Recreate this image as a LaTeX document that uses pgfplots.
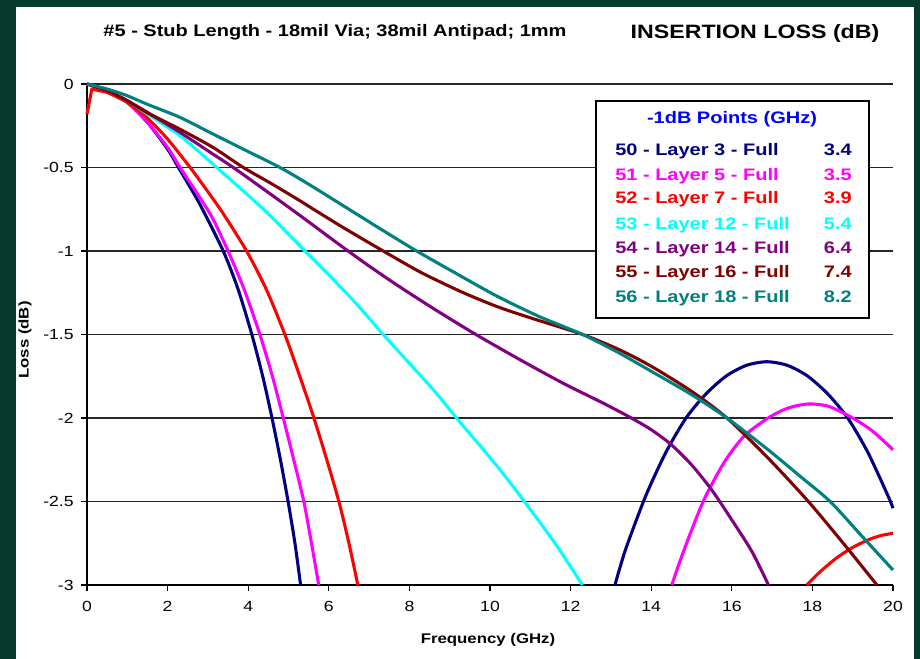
\documentclass[border=0pt]{standalone}
\usepackage{fontspec}
\setmainfont{Liberation Sans}[FakeStretch=1.2]
\usepackage{pgfplots}
\pgfplotsset{compat=1.18}

\definecolor{bggreen}{RGB}{6,58,44}
\definecolor{c50}{RGB}{0,0,128}
\definecolor{c51}{RGB}{255,0,255}
\definecolor{c52}{RGB}{255,0,0}
\definecolor{c53}{RGB}{0,255,255}
\definecolor{c54}{RGB}{128,0,128}
\definecolor{c55}{RGB}{128,0,0}
\definecolor{c56}{RGB}{0,128,128}
\definecolor{ttlblue}{RGB}{0,0,255}

\newcommand{\legfont}{\bfseries\fontsize{12.5}{14}\selectfont}
\newcommand{\legrow}[4]{%
  \node[anchor=base west, text=#2, font=\legfont, inner sep=0] at (615,#1) {#3};
  \node[anchor=base east, text=#2, font=\legfont, inner sep=0] at (852,#1) {#4};}

\begin{document}
\begin{tikzpicture}
\useasboundingbox (0,0) rectangle (690pt,-494.25pt);
\fill[bggreen] (0,0) rectangle (690pt,-494.25pt);
\fill[white] (12pt,-5.25pt) rectangle (685.5pt,-494.25pt);

\begin{axis}[
  at={(65.25pt,-438.75pt)}, anchor=south west,
  scale only axis, width=604.5pt, height=375.75pt,
  xmin=0, xmax=20, ymin=-3, ymax=0,
  axis x line*=bottom, axis y line*=left,
  axis line style={line width=0.9pt, black},
  xtick={0,2,4,6,8,10,12,14,16,18,20},
  ytick={-3,-2.5,-2,-1.5,-1,-0.5,0},
  tick align=outside, major tick length=4.5pt,
  tick style={line width=0.9pt, black},
  ymajorgrids, grid style={line width=0.9pt, black!85},
  clip=false,
  every tick label/.append style={font=\fontsize{11}{13}\selectfont},
  xticklabel style={yshift=-4pt},
  yticklabel style={xshift=-2pt},
  /pgf/number format/assume math mode=true,
  no markers,
  every axis plot/.append style={line width=2.3pt, line join=round, smooth, tension=0.45},
]
% 50 - Layer 3
\addplot[c50] coordinates {(0,0) (0.5,-0.04) (1,-0.11) (1.5,-0.23) (2,-0.39) (2.27,-0.5)
  (2.8,-0.72) (3.38,-1.0) (3.75,-1.23) (4.09,-1.5) (4.36,-1.75) (4.59,-2.0)
  (4.8,-2.25) (4.99,-2.5) (5.16,-2.75) (5.3,-3.0)};
\addplot[c50] coordinates {(13.1,-3.0) (13.37,-2.783) (13.87,-2.463) (14.37,-2.203)
  (14.87,-1.998) (15.37,-1.853) (15.87,-1.747) (16.37,-1.684) (16.87,-1.663)
  (17.37,-1.684) (17.87,-1.747) (18.37,-1.853) (18.87,-1.998) (19.37,-2.203)
  (19.87,-2.463) (20,-2.54)};
% 51 - Layer 5
\addplot[c51] coordinates {(0,0) (0.5,-0.04) (1,-0.11) (1.5,-0.23) (2,-0.38) (2.31,-0.5)
  (2.8,-0.68) (3.13,-0.81) (3.5,-1.0) (3.9,-1.23) (4.29,-1.5) (4.6,-1.75)
  (4.87,-2.0) (5.13,-2.25) (5.38,-2.5) (5.57,-2.75) (5.75,-3.0)};
\addplot[c51] coordinates {(14.51,-3.0) (14.8,-2.8) (15.29,-2.5) (15.8,-2.27)
  (16.3,-2.11) (16.9,-2.0) (17.4,-1.94) (17.9,-1.916) (18.4,-1.93) (19.0,-2.0)
  (19.5,-2.08) (20,-2.19)};
% 52 - Layer 7
\addplot[c52, sharp plot] coordinates {(0,-0.18) (0.12,-0.03) (0.5,-0.05)};
\addplot[c52] coordinates {(0.5,-0.05) (1,-0.11) (1.48,-0.2)
  (2,-0.33) (2.56,-0.5) (3.0,-0.645) (3.39,-0.78) (3.96,-1.0) (4.45,-1.23)
  (4.91,-1.5) (5.28,-1.75) (5.63,-2.0) (5.95,-2.25) (6.25,-2.5) (6.5,-2.75)
  (6.72,-3.0)};
\addplot[c52] coordinates {(17.86,-3.0) (18.2,-2.919) (18.6,-2.838) (19.0,-2.775)
  (19.4,-2.728) (19.7,-2.704) (20,-2.69)};
% 53 - Layer 12
\addplot[c53] coordinates {(0,0) (0.5,-0.04) (1,-0.1) (1.5,-0.18) (2.31,-0.31)
  (3.22,-0.5) (4.38,-0.75) (5.41,-1.0) (6.03,-1.15) (6.7,-1.32) (7.35,-1.5)
  (8.59,-1.83) (9.17,-2.0) (10.25,-2.31) (11.1,-2.58) (11.7,-2.78) (12.29,-3.0)};
% 54 - Layer 14
\addplot[c54] coordinates {(0,0) (0.5,-0.04) (1,-0.1) (1.5,-0.17) (2.31,-0.29)
  (3.0,-0.4) (3.63,-0.5) (4.5,-0.65) (5.3,-0.79) (6.0,-0.915) (6.45,-0.995)
  (7.0,-1.09) (7.7,-1.205) (8.6,-1.345) (9.58,-1.49) (10.7,-1.645) (11.8,-1.79)
  (12.8,-1.91) (13.47,-1.995) (14.0,-2.07) (14.5,-2.16) (15.0,-2.28) (15.5,-2.43)
  (16.0,-2.61) (16.5,-2.8) (16.91,-3.0)};
% 55 - Layer 16
\addplot[c55] coordinates {(0,0) (0.5,-0.04) (1,-0.1) (1.48,-0.17) (2.3,-0.27)
  (3.13,-0.38) (3.88,-0.5) (4.6,-0.6) (5.29,-0.7) (5.62,-0.75) (6.36,-0.86)
  (7.35,-1.0) (8.3,-1.13) (9.34,-1.25) (10.2,-1.335) (11.0,-1.40) (12.3,-1.5)
  (13.2,-1.59) (14.0,-1.69) (15.0,-1.84) (15.88,-2.0) (16.9,-2.24) (17.9,-2.5)
  (18.8,-2.76) (19.6,-3.0)};
% 56 - Layer 18
\addplot[c56] coordinates {(0,0) (0.5,-0.03) (1,-0.07) (1.48,-0.12) (2.31,-0.2)
  (3.13,-0.3) (3.96,-0.4) (4.79,-0.5) (5.5,-0.6) (6.3,-0.72) (7.23,-0.86)
  (8.18,-1.0) (9.2,-1.14) (10.17,-1.27) (11.2,-1.39) (12.3,-1.5) (13.2,-1.61)
  (14.0,-1.72) (15.0,-1.86) (15.88,-2.0) (16.9,-2.19) (17.7,-2.35) (18.44,-2.5)
  (19.2,-2.7) (20,-2.91)};
\end{axis}

\begin{scope}[x=0.75pt,y=-0.75pt]
\node[anchor=base, font=\bfseries\fontsize{12.5}{14}\selectfont] at (335,37)
  {\#5 - Stub Length - 18mil Via; 38mil Antipad; 1mm};
\node[anchor=base, font=\bfseries\fontsize{14.5}{16}\selectfont] at (755,39)
  {INSERTION LOSS (dB)};
\node[rotate=90, font=\bfseries\fontsize{10.5}{12}\selectfont] at (25,340) {Loss (dB)};
\node[font=\bfseries\fontsize{10.5}{12}\selectfont] at (488,640) {Frequency (GHz)};
\draw[fill=white, line width=0.9pt] (596,101) rectangle (869,318);
\node[anchor=base, text=ttlblue, font=\legfont] at (732,124) {-1dB Points (GHz)};
\legrow{156}{c50}{50 - Layer 3 - Full}{3.4}
\legrow{181}{c51}{51 - Layer 5 - Full}{3.5}
\legrow{204}{c52}{52 - Layer 7 - Full}{3.9}
\legrow{229}{c53}{53 - Layer 12 - Full}{5.4}
\legrow{253}{c54}{54 - Layer 14 - Full}{6.4}
\legrow{277}{c55}{55 - Layer 16 - Full}{7.4}
\legrow{302}{c56}{56 - Layer 18 - Full}{8.2}
\end{scope}
\end{tikzpicture}
\end{document}
